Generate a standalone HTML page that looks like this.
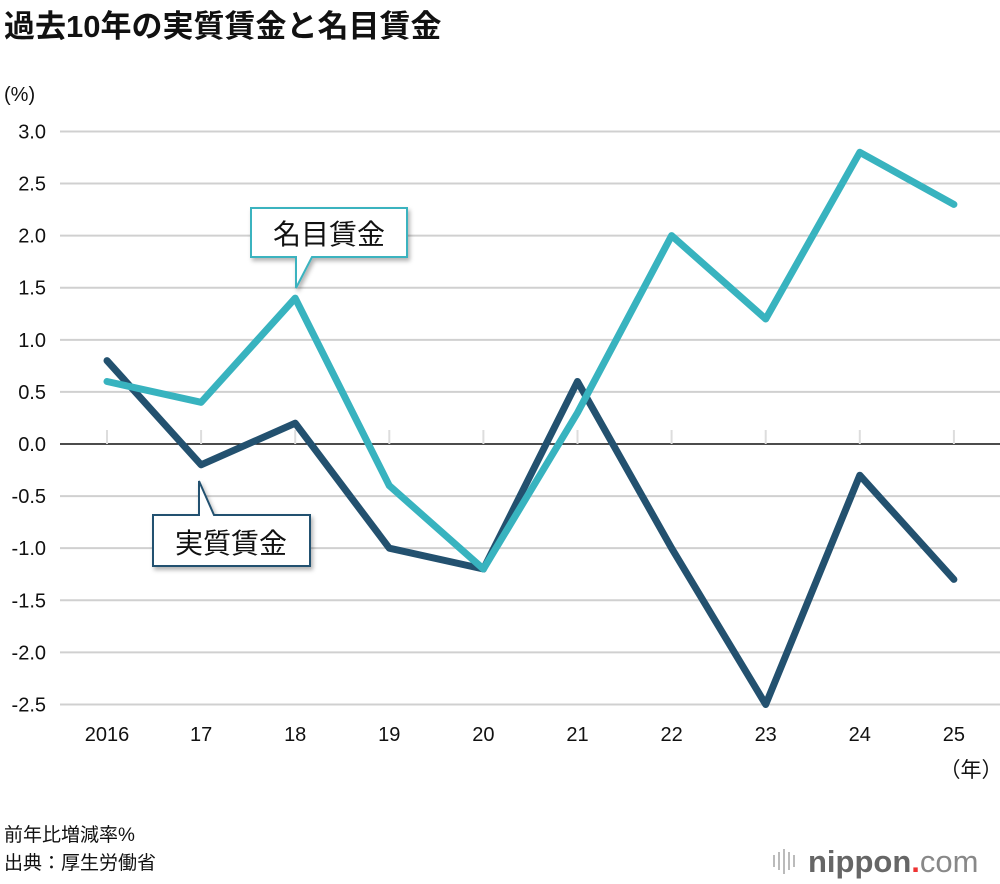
<!DOCTYPE html>
<html><head><meta charset="utf-8"><style>
body{margin:0;background:#fff;}
svg{display:block;font-family:"Liberation Sans","Noto Sans CJK JP",sans-serif;}
</style></head><body>
<svg id="chart" width="1000" height="884" viewBox="0 0 1000 884">
<defs><filter id="sh" x="-20%" y="-20%" width="140%" height="150%"><feDropShadow dx="2" dy="3" stdDeviation="2" flood-color="#000" flood-opacity="0.3"/></filter></defs>
<text x="4" y="37" font-size="31" font-weight="bold" fill="#111">過去10年の実質賃金と名目賃金</text>
<text x="4" y="101" font-size="20" fill="#111">(%)</text>
<g id="grid"></g><g id="lines"></g>
<g filter="url(#sh)">
<path d="M251,208 H407 V257 H312 L296,288 L296,257 H251 Z" fill="#fff" stroke="#3ab3bf" stroke-width="2"/>
</g>
<text x="329" y="244" font-size="28" text-anchor="middle" fill="#111">名目賃金</text>
<g filter="url(#sh)">
<path d="M153,515 H199 V481 L214,515 H310 V566 H153 Z" fill="#fff" stroke="#23516f" stroke-width="2"/>
</g>
<text x="231" y="553" font-size="28" text-anchor="middle" fill="#111">実質賃金</text>
<text x="971" y="777" font-size="21" text-anchor="middle" fill="#111">（年）</text>
<text x="4" y="841" font-size="19" fill="#111">前年比増減率%</text>
<text x="4" y="869" font-size="19" fill="#111">出典：厚生労働省</text>
<g>
<g stroke="#bbb" stroke-width="2"><line x1="774" y1="855" x2="774" y2="867"/><line x1="779" y1="852" x2="779" y2="870"/><line x1="784" y1="849" x2="784" y2="874"/><line x1="789" y1="852" x2="789" y2="870"/><line x1="794" y1="855" x2="794" y2="867"/></g>
<text x="808" y="872" font-size="31" fill="#666" font-weight="bold">nippon<tspan fill="#e33">.</tspan><tspan font-weight="normal" fill="#888">com</tspan></text>
</g>
</svg>
<script>
const years=["2016","17","18","19","20","21","22","23","24","25"];
const nominal=[0.6,0.4,1.4,-0.4,-1.2,0.3,2.0,1.2,2.8,2.3];
const real=[0.8,-0.2,0.2,-1.0,-1.2,0.6,-1.0,-2.5,-0.3,-1.3];
const yTicks=[3.0,2.5,2.0,1.5,1.0,0.5,0.0,-0.5,-1.0,-1.5,-2.0,-2.5];
const NS="http://www.w3.org/2000/svg";
function x(i){return 107+i*94.1;}
function y(v){return 444-v*104.18;}
function mk(t,a,p){const e=document.createElementNS(NS,t);for(const k in a)e.setAttribute(k,a[k]);p.appendChild(e);return e;}
const grid=document.getElementById('grid'),lines=document.getElementById('lines');
yTicks.forEach(v=>{
 const l=mk('line',{x1:60,x2:1000,y1:y(v),y2:y(v),stroke:v===0?'#111':'#d0d0d0','stroke-width':v===0?1.5:2},grid);
 
 
 const t=mk('text',{x:46,y:y(v)+7,'font-size':20,'text-anchor':'end',fill:'#111'},grid);
 t.textContent=v.toFixed(1);
 
 
});
years.forEach((s,i)=>{
 const l=mk('line',{x1:x(i),x2:x(i),y1:430,y2:444,stroke:'#ddd','stroke-width':2},grid);
 
 
 const t=mk('text',{x:x(i),y:741,'font-size':20,'text-anchor':'middle',fill:'#111'},grid);
 t.textContent=s;
 
 
});
function series(d,c,n){
 const p=mk('polyline',{points:d.map((v,i)=>x(i)+','+y(v)).join(' '),fill:'none',stroke:c,'stroke-width':7,'stroke-linejoin':'round','stroke-linecap':'round'},lines);
 
 
}
series(real,'#23516f','real-wage-line');
series(nominal,'#38b3bf','nominal-wage-line');
</script>
</body></html>
